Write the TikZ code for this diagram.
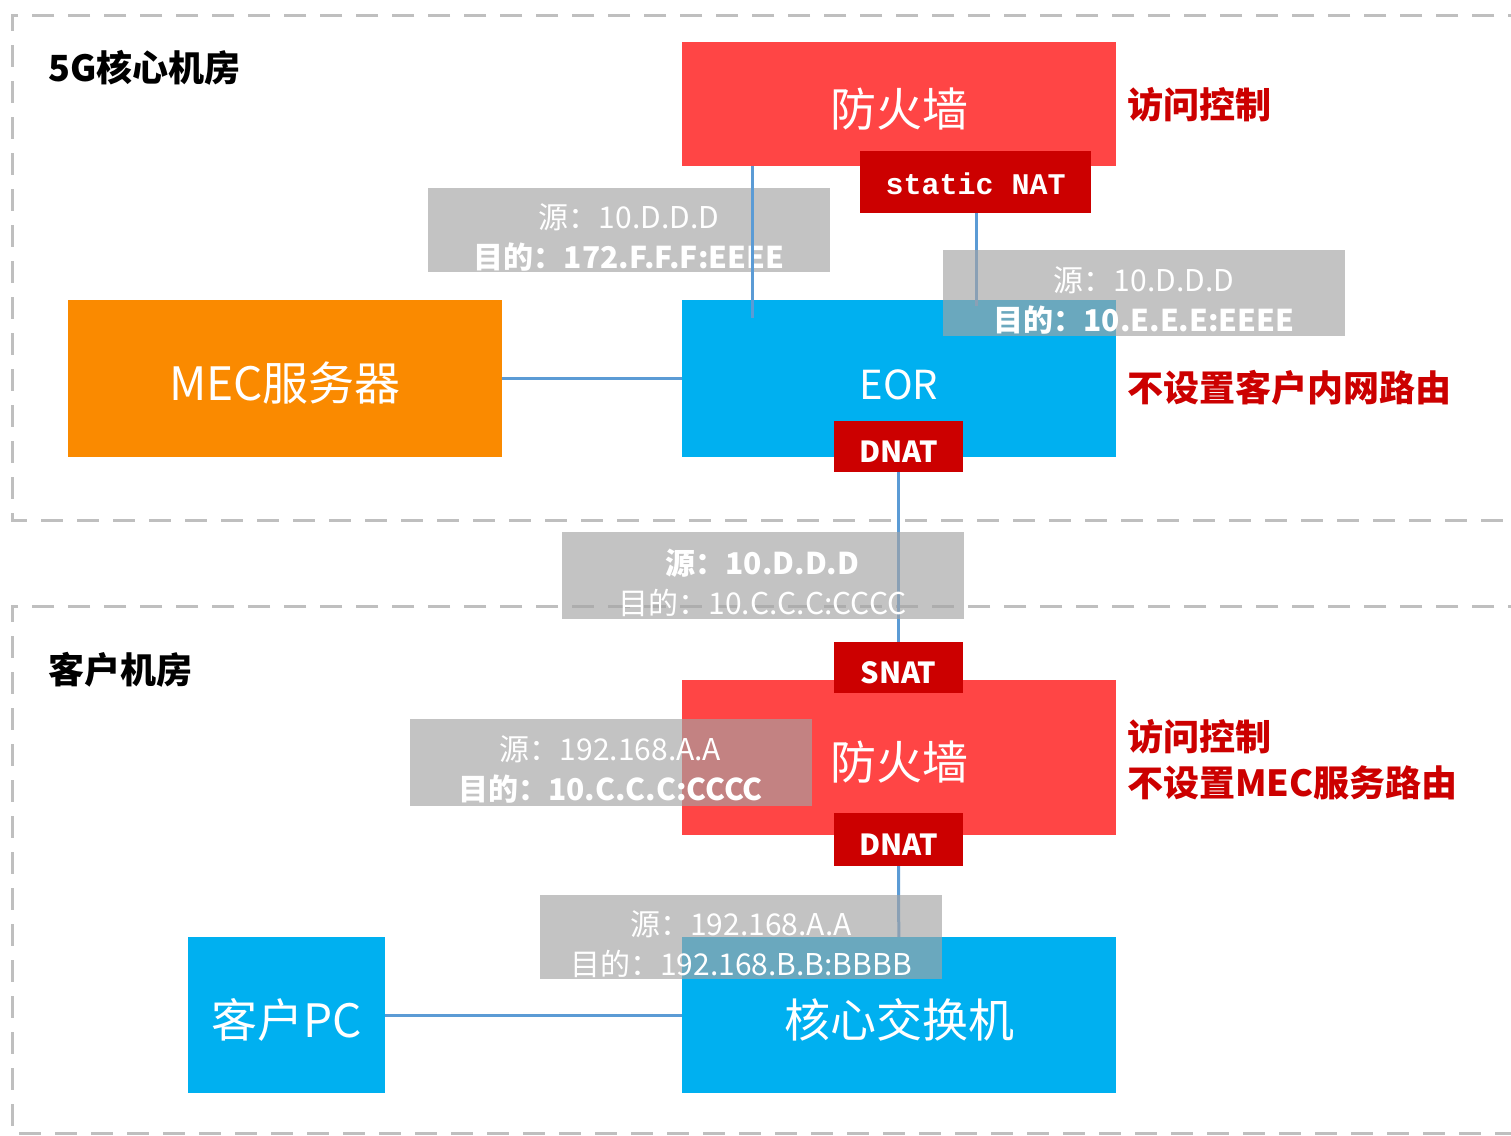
\documentclass[tikz,border=0pt]{standalone}
\usepackage{fontspec}
\setmainfont{Noto Sans CJK SC}
\setmonofont{Liberation Mono}
\definecolor{fwred}{HTML}{FF4545}
\definecolor{natred}{HTML}{CC0000}
\definecolor{eorblue}{HTML}{00B0F0}
\definecolor{mecorange}{HTML}{FA8A00}
\definecolor{linkblue}{HTML}{5B9BD5}
\definecolor{infogray}{HTML}{A4A4A4}
\definecolor{zonegray}{HTML}{BFBFBF}
\begin{document}
\begin{tikzpicture}[x=1pt,y=-1pt,
  bigbox/.style={rectangle, inner sep=0pt},
  bigtext/.style={text=white, inner sep=0pt, yshift=-5pt, font=\fontsize{46}{46}\selectfont},
  natbox/.style={rectangle, fill=natred, inner sep=0pt, minimum width=129pt},
  nattext/.style={text=white, inner sep=0pt, yshift=-5pt, font=\bfseries\fontsize{29}{29}\selectfont},
  infobox/.style={rectangle, fill=infogray, fill opacity=0.65, inner sep=0pt, minimum width=402pt},
  infotext/.style={text=white, text opacity=1, fill opacity=1, align=center, inner sep=0pt, yshift=-7pt, font=\fontsize{30}{40}\selectfont},
  notetext/.style={anchor=west, text=natred, inner sep=0pt, align=left, font=\bfseries\fontsize{36}{46}\selectfont},
  zonetitle/.style={anchor=west, text=black, inner sep=0pt, font=\bfseries\fontsize{36}{36}\selectfont},
  conn/.style={draw=linkblue, line width=3pt},
  zone/.style={draw=zonegray, line width=3pt, dash pattern=on 22pt off 14pt}]
\useasboundingbox (0,0) rectangle (1511,1135);
\fill[white] (0,0) rectangle (1511,1135);
% zones
\draw[zone] (1530,15) -- (12,15) -- (12,520) -- (1530,520);
\draw[zone] (1530,606) -- (12,606) -- (12,1133) -- (1530,1133);
\node[zonetitle] (z1) at (48,68) {5G核心机房};
\node[zonetitle] (z2) at (48,670) {客户机房};
% main boxes
\node[bigbox, fill=fwred, minimum width=434pt, minimum height=124pt, label={[bigtext]center:防火墙}] (fw1) at (899,104) {};
\node[bigbox, fill=mecorange, minimum width=434pt, minimum height=157pt, label={[bigtext]center:MEC服务器}] (mec) at (285,378.5) {};
\node[bigbox, fill=eorblue, minimum width=434pt, minimum height=157pt, label={[bigtext, yshift=-1.5pt, font=\fontsize{40}{40}\selectfont]center:EOR}] (eor) at (899,378.5) {};
\node[bigbox, fill=fwred, minimum width=434pt, minimum height=155pt, label={[bigtext]center:防火墙}] (fw2) at (899,757.5) {};
\node[bigbox, fill=eorblue, minimum width=197pt, minimum height=156pt, label={[bigtext]center:客户PC}] (pc) at (286.5,1015) {};
\node[bigbox, fill=eorblue, minimum width=434pt, minimum height=156pt, label={[bigtext]center:核心交换机}] (sw) at (899,1015) {};
% connectors
\coordinate (e2) at (976,306);
\draw[conn] (mec) -- (eor);
\draw[conn] (pc) -- (sw);
% nat boxes
\node[natbox, minimum width=231pt, minimum height=62pt, label={[nattext, yshift=3pt, font=\ttfamily\bfseries\fontsize{30}{30}\selectfont]center:static NAT}] (snat0) at (975.5,182) {};
\node[natbox, minimum height=51pt, label={[nattext]center:DNAT}] (dnat1) at (898.5,446.5) {};
\node[natbox, minimum height=51pt, label={[nattext]center:SNAT}] (snat) at (898.5,667.5) {};
\node[natbox, minimum height=53pt, label={[nattext]center:DNAT}] (dnat2) at (898.5,839.5) {};
\draw[conn] (dnat1) -- (snat);
\draw[conn] (dnat2) -- (sw);
\draw[conn] (snat0.south -| e2) -- (e2);
% info labels
\node[infobox, minimum height=84pt, label={[infotext]center:{源：10.D.D.D\\\textbf{目的：172.F.F.F:EEEE}}}] (i1) at (629,230) {};
\node[infobox, minimum height=86pt, label={[infotext]center:{源：10.D.D.D\\\textbf{目的：10.E.E.E:EEEE}}}] (i2) at (1144,293) {};
\node[infobox, minimum height=87pt, label={[infotext]center:{\textbf{源：10.D.D.D}\\目的：10.C.C.C:CCCC}}] (i3) at (762.5,575.5) {};
\node[infobox, minimum height=87pt, label={[infotext]center:{源：192.168.A.A\\\textbf{目的：10.C.C.C:CCCC}}}] (i4) at (610.5,762.5) {};
\node[infobox, minimum height=84pt, label={[infotext]center:{源：192.168.A.A\\目的：192.168.B.B:BBBB}}] (i5) at (741,937) {};
\coordinate (e1) at (752,318);
\draw[conn] (fw1.south -| e1) -- (e1);
% notes
\node[notetext] (n1) at (1127,105) {访问控制};
\node[notetext] (n2) at (1127,388) {不设置客户内网路由};
\node[notetext] (n3) at (1127,760) {访问控制\\不设置MEC服务路由};
\end{tikzpicture}
\end{document}
